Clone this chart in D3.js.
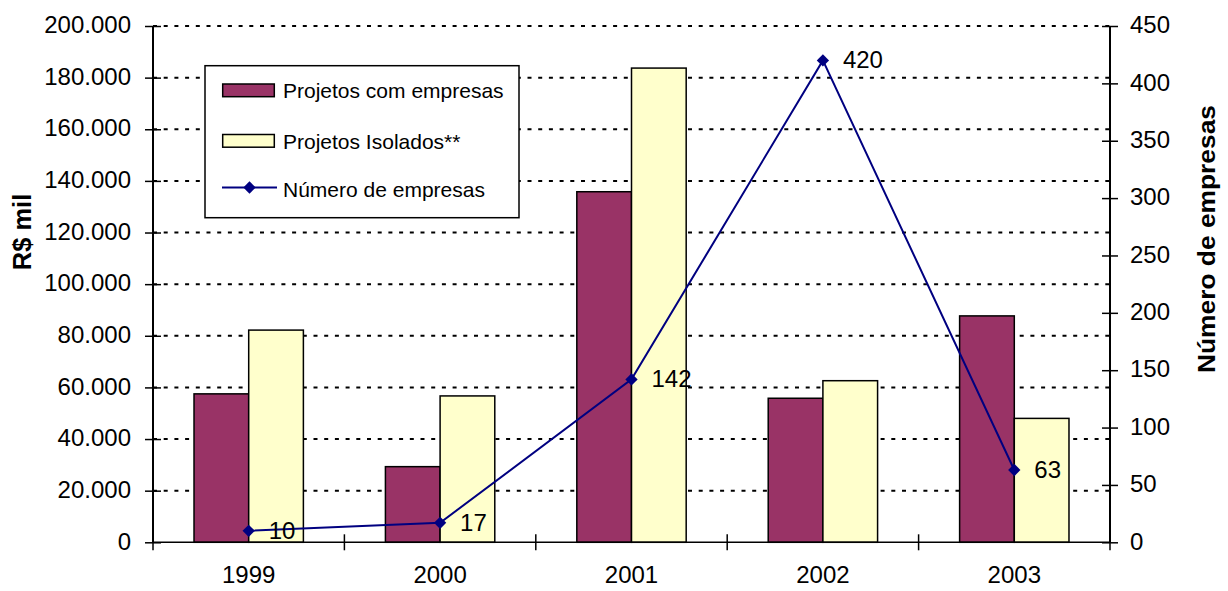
<!DOCTYPE html>
<html>
<head>
<meta charset="utf-8">
<script src="https://cdn.jsdelivr.net/npm/d3@7"></script>
<style>
  html, body { margin: 0; padding: 0; background: #fff; }
  text { font-family: "Liberation Sans", Arial, sans-serif; fill: #000; }
</style>
</head>
<body>
<svg id="chart" width="1228" height="591"></svg>
<script>
const categories = ["1999", "2000", "2001", "2002", "2003"];
const projetosComEmpresas = [57500, 29300, 135800, 55800, 87700];
const projetosIsolados = [82200, 56700, 183700, 62600, 48000];
const numeroEmpresas = [10, 17, 142, 420, 63];
const leftTicks = [0, 20000, 40000, 60000, 80000, 100000, 120000, 140000, 160000, 180000, 200000];
const rightTicks = [0, 50, 100, 150, 200, 250, 300, 350, 400, 450];
const seriesNames = ["Projetos com empresas", "Projetos Isolados**", "Número de empresas"];

(function () {
const colors = { com: "#993366", iso: "#FFFFCC", line: "#000080" };

const svg = d3.select("#chart");
const pLeft = 153, pRight = 1110, pTop = 26, pBottom = 542.3;

const x = d3.scaleBand().domain(categories).range([pLeft, pRight]).padding(0);
const yL = d3.scaleLinear().domain([0, 200000]).range([pBottom, pTop]);
const yR = d3.scaleLinear().domain([0, 450]).range([pBottom, pTop]);
const bw = x.bandwidth() / 3.5;

const loc = d3.formatLocale({ decimal: ",", thousands: ".", grouping: [3], currency: ["R$", ""] });
const fmt = loc.format(",");

// gridlines
svg.append("g").selectAll("line").data(leftTicks.filter(d => d > 0)).join("line")
  .attr("x1", pLeft).attr("x2", pRight)
  .attr("y1", d => yL(d)).attr("y2", d => yL(d))
  .attr("stroke", "#000").attr("stroke-width", 2).attr("stroke-dasharray", "4,6.7");

// bars
const bars = svg.append("g");
bars.selectAll("rect.com").data(categories).join("rect").attr("class", "com")
  .attr("x", d => x(d) + x.bandwidth() / 2 - bw)
  .attr("y", (d, i) => yL(projetosComEmpresas[i]))
  .attr("width", bw)
  .attr("height", (d, i) => pBottom - yL(projetosComEmpresas[i]))
  .attr("fill", colors.com).attr("stroke", "#000").attr("stroke-width", 1.5);
bars.selectAll("rect.iso").data(categories).join("rect").attr("class", "iso")
  .attr("x", d => x(d) + x.bandwidth() / 2)
  .attr("y", (d, i) => yL(projetosIsolados[i]))
  .attr("width", bw)
  .attr("height", (d, i) => pBottom - yL(projetosIsolados[i]))
  .attr("fill", colors.iso).attr("stroke", "#000").attr("stroke-width", 1.5);

// axes
const axL = svg.append("g").attr("transform", `translate(${pLeft},0)`)
  .call(d3.axisLeft(yL).tickValues(leftTicks).tickFormat(fmt).tickSize(8).tickPadding(14));
axL.selectAll(".tick line").attr("x1", 8);
const axR = svg.append("g").attr("transform", `translate(${pRight},0)`)
  .call(d3.axisRight(yR).tickValues(rightTicks).tickSize(8).tickPadding(12));
axR.selectAll(".tick line").attr("x1", -8);
[axL, axR].forEach(a => {
  a.select(".domain").attr("stroke", "#000").attr("stroke-width", 2).attr("d", `M0,${pTop}V${pBottom}`);
  a.selectAll(".tick line").attr("stroke", "#000").attr("stroke-width", 1.5);
  a.selectAll(".tick text").attr("font-size", 24).attr("font-family", "Liberation Sans, Arial, sans-serif").attr("fill", "#000").attr("dy", "0.28em");
});

const axB = svg.append("g").attr("transform", `translate(0,${pBottom})`)
  .call(d3.axisBottom(x).tickSize(0).tickPadding(24));
axB.select(".domain").attr("stroke", "#000").attr("stroke-width", 1.5).attr("d", `M${pLeft},0H${pRight}`);
axB.selectAll(".tick text").attr("font-size", 24).attr("font-family", "Liberation Sans, Arial, sans-serif").attr("fill", "#000");
axB.selectAll("line.cat").data(categories.map(c => x(c)).concat([pRight])).join("line").attr("class", "cat")
  .attr("x1", d => d).attr("x2", d => d).attr("y1", -8).attr("y2", 8)
  .attr("stroke", "#000").attr("stroke-width", 1.5);

// line
const cx = d => x(d) + x.bandwidth() / 2;
const lineGen = d3.line().x((d, i) => cx(categories[i])).y(d => yR(d));
svg.append("path").datum(numeroEmpresas).attr("d", lineGen)
  .attr("fill", "none").attr("stroke", colors.line).attr("stroke-width", 2);
const diamond = d3.symbol(d3.symbolSquare, 76);
svg.append("g").selectAll("path").data(numeroEmpresas).join("path")
  .attr("d", diamond)
  .attr("transform", (d, i) => `translate(${cx(categories[i])},${yR(d)}) rotate(45)`)
  .attr("fill", colors.line);
svg.append("g").selectAll("text").data(numeroEmpresas).join("text")
  .attr("x", (d, i) => cx(categories[i]) + 20)
  .attr("y", d => yR(d) + 8)
  .attr("font-size", 24)
  .text(d => d);

// axis titles
svg.append("text").attr("transform", "translate(30.5,232) rotate(-90)")
  .attr("text-anchor", "middle").attr("font-size", 25.5).attr("font-weight", "bold").text("R$ mil");
svg.append("text").attr("transform", "translate(1215,239) rotate(-90)")
  .attr("text-anchor", "middle").attr("font-size", 23.5).attr("font-weight", "bold")
  .attr("textLength", 268).attr("lengthAdjust", "spacingAndGlyphs").text("Número de empresas");

// legend
const lg = svg.append("g");
lg.append("rect").attr("x", 205).attr("y", 65.7).attr("width", 314).attr("height", 152)
  .attr("fill", "#fff").attr("stroke", "#000").attr("stroke-width", 1.5);
lg.append("rect").attr("x", 222.7).attr("y", 84).attr("width", 51.6).attr("height", 12.7)
  .attr("fill", colors.com).attr("stroke", "#000").attr("stroke-width", 1.5);
lg.append("rect").attr("x", 222.7).attr("y", 134.5).attr("width", 51.6).attr("height", 12.7)
  .attr("fill", colors.iso).attr("stroke", "#000").attr("stroke-width", 1.5);
lg.append("line").attr("x1", 222).attr("x2", 277).attr("y1", 187.5).attr("y2", 187.5)
  .attr("stroke", colors.line).attr("stroke-width", 2);
lg.append("path").attr("d", diamond).attr("transform", "translate(249.5,187.5) rotate(45)").attr("fill", colors.line);
lg.selectAll("text").data(seriesNames).join("text")
  .attr("x", 283).attr("y", (d, i) => [98, 148.5, 197][i])
  .attr("font-size", 21).text(d => d);
})();
</script>
</body>
</html>
